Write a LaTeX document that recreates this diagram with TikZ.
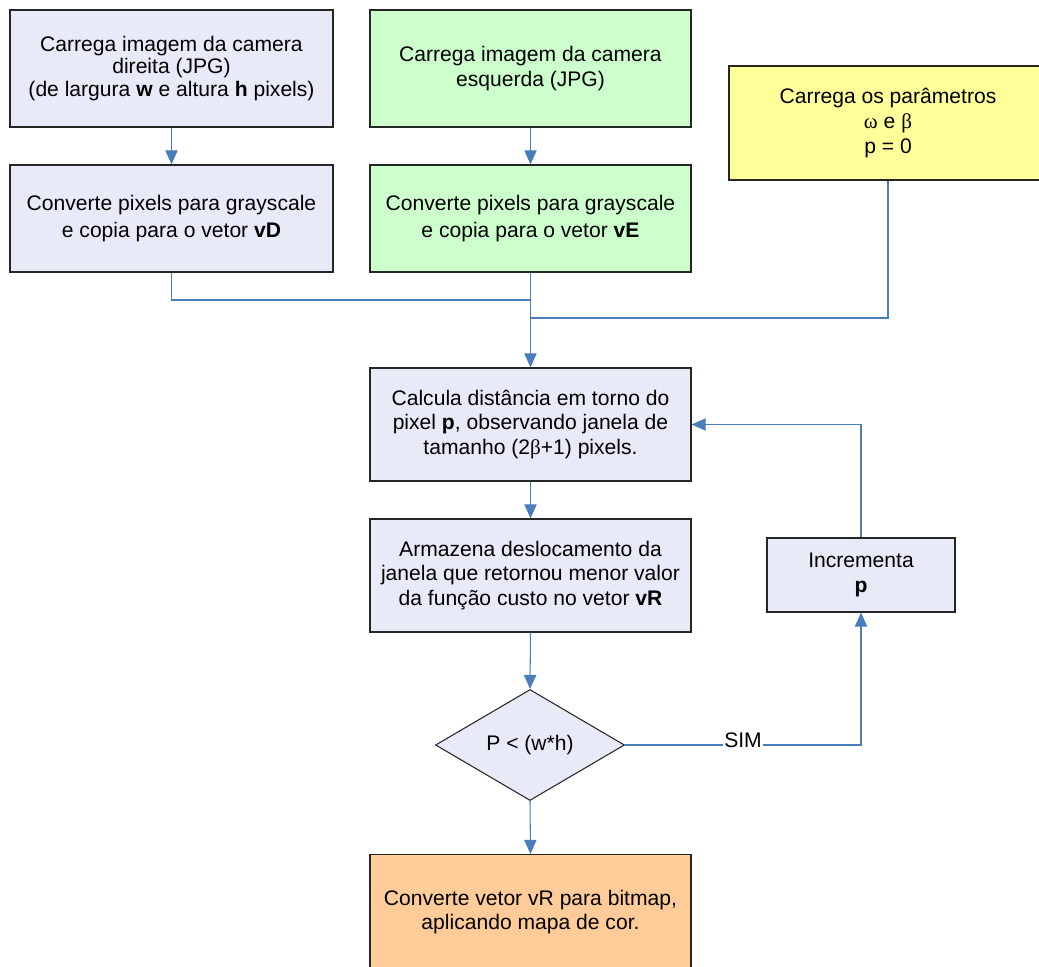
\documentclass[tikz,border=0pt]{standalone}
\usepackage{fontspec}
\setmainfont{Liberation Sans}
\newfontfamily\greekfont{Liberation Serif}
\usepackage{xcolor}
\usetikzlibrary{shapes.geometric,arrows.meta}
\definecolor{boxblue}{HTML}{E8EBF7}
\definecolor{boxgreen}{HTML}{CCFFCC}
\definecolor{boxyellow}{HTML}{FFFF99}
\definecolor{boxorange}{HTML}{FFCC99}
\definecolor{linkblue}{HTML}{4A7EBB}
\newcommand{\gk}[1]{{\greekfont #1}}

\begin{document}
\begin{tikzpicture}[
    font=\fontsize{12}{14}\selectfont,
    stepbox/.style={draw=black!85, line width=0.7pt, align=center, inner sep=2pt},
    link/.style={draw=linkblue, line width=0.6pt},
    arr/.style={link, -{Triangle[length=8pt,width=7pt]}}
  ]
  \useasboundingbox (0,0) rectangle (20.78,-19.34);
  % upper row
  \node[stepbox, fill=boxblue, minimum width=6.46cm, minimum height=2.34cm, font=\fontsize{12}{12.8}\selectfont] (dirImg) at (3.43,-1.37)
    {Carrega imagem da camera\\direita (JPG)\\(de largura \textbf{w} e altura \textbf{h} pixels)};
  \node[stepbox, fill=boxgreen, minimum width=6.42cm, minimum height=2.34cm] (esqImg) at (10.61,-1.37)
    {Carrega imagem da camera\\esquerda (JPG)};
  \node[stepbox, fill=boxyellow, minimum width=6.36cm, minimum height=2.28cm] (param) at (17.76,-2.46)
    {Carrega os parâmetros\\\gk{ω} e \gk{β}\\p = 0};
  \node[stepbox, fill=boxblue, minimum width=6.46cm, minimum height=2.14cm, font=\fontsize{12}{15.2}\selectfont] (dirGray) at (3.43,-4.37)
    {Converte pixels para grayscale\\e copia para o vetor \textbf{vD}};
  \node[stepbox, fill=boxgreen, minimum width=6.42cm, minimum height=2.14cm, font=\fontsize{12}{15.2}\selectfont] (esqGray) at (10.61,-4.37)
    {Converte pixels para grayscale\\e copia para o vetor \textbf{vE}};
  % main loop
  \node[stepbox, fill=boxblue, minimum width=6.42cm, minimum height=2.26cm] (dist) at (10.61,-8.49)
    {Calcula distância em torno do\\pixel \textbf{p}, observando janela de\\tamanho (2\gk{β}+1) pixels.};
  \node[stepbox, fill=boxblue, minimum width=6.42cm, minimum height=2.26cm] (armaz) at (10.61,-11.51)
    {Armazena deslocamento da\\janela que retornou menor valor\\da função custo no vetor \textbf{vR}};
  \node[stepbox, fill=boxblue, minimum width=3.76cm, minimum height=1.48cm] (incr) at (17.22,-11.5)
    {Incrementa\\\textbf{p}};
  \node[diamond, draw=black!85, line width=0.6pt, fill=boxblue, aspect=1.7, minimum width=3.78cm, minimum height=2.22cm, inner sep=0pt] (teste) at (10.6,-14.9)
    {P < (w*h)};
  \node[stepbox, fill=boxorange, minimum width=6.42cm, minimum height=2.3cm] (bitmap) at (10.61,-18.24)
    {Converte vetor vR para bitmap,\\aplicando mapa de cor.};
  \coordinate (juncA) at (10.61,-6.0);
  \coordinate (juncB) at (10.61,-6.36);

  \draw[arr] (dirImg.south) -- (dirGray.north);
  \draw[arr] (esqImg.south) -- (esqGray.north);
  \draw[link] (dirGray.south) |- (juncA);
  \draw[link] (param.south) |- (juncB);
  \draw[arr] (esqGray.south) -- (dist.north);
  \draw[arr] (dist.south) -- (armaz.north);
  \draw[arr] (armaz.south) -- (teste.north);
  \draw[arr] (teste.south) -- (bitmap.north);
  \draw[arr] (teste.east) -- node[fill=white, inner sep=0.5pt, yshift=0.1cm] {SIM} (incr.south |- teste.east) -- (incr.south);
  \draw[arr] (incr.north) |- (dist.east);
\end{tikzpicture}
\end{document}
